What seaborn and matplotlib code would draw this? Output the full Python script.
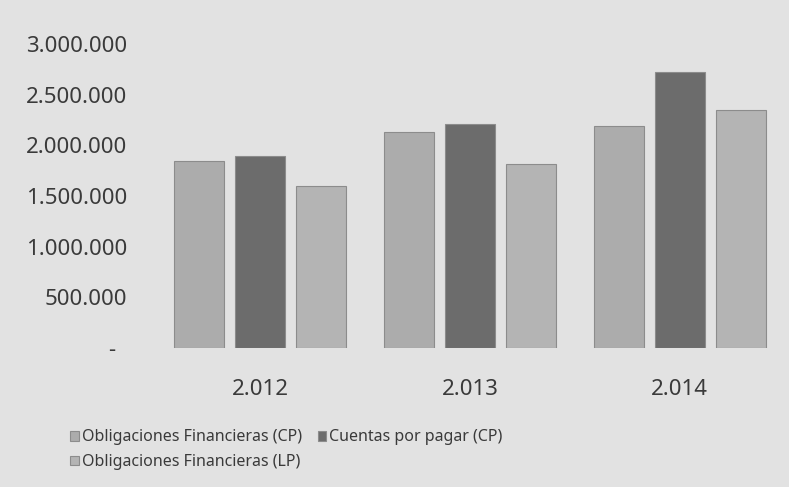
import matplotlib
matplotlib.use("Agg")
import matplotlib.pyplot as plt
import matplotlib.ticker as mticker
import pandas as pd
import seaborn as sns

years = ["2.012", "2.013", "2.014"]
series = [
    "Obligaciones Financieras (CP)",
    "Cuentas por pagar (CP)",
    "Obligaciones Financieras (LP)",
]
oblig_cp = [1850000, 2130000, 2190000]
cuentas_cp = [1890000, 2210000, 2720000]
oblig_lp = [1600000, 1820000, 2350000]

df = pd.DataFrame({
    "year": years * 3,
    "serie": [s for s in series for _ in years],
    "valor": oblig_cp + cuentas_cp + oblig_lp,
})

sns.set_theme(style="white")
plt.rcParams["font.family"] = ["Noto Sans", "DejaVu Sans"]

bg = "#e2e2e2"
txt = "#3a3a3a"
colors = ["#acacac", "#6c6c6c", "#b4b4b4"]

fig = plt.figure(figsize=(7.89, 4.87), dpi=100, facecolor=bg)
ax = fig.add_axes([140 / 789, 1 - 348 / 487, 649 / 789, 304 / 487])
ax.set_facecolor(bg)

sns.barplot(
    data=df, x="year", y="valor", hue="serie", hue_order=series,
    palette=colors, width=0.87, gap=0.18, edgecolor="#8c8c8c",
    linewidth=0.8, ax=ax,
)

ax.set_xlim(-0.571, 2.52)
ax.set_ylim(0, 3000000)
ax.set_yticks([0, 500000, 1000000, 1500000, 2000000, 2500000, 3000000])


def fmt(v, pos):
    if v == 0:
        return "-  "
    return f"{int(v):,}".replace(",", ".")


ax.yaxis.set_major_formatter(mticker.FuncFormatter(fmt))
ax.tick_params(axis="y", labelsize=16, colors=txt, length=0, pad=9)
ax.tick_params(axis="x", labelsize=16, colors=txt, length=0, pad=22)
ax.set_xlabel("")
ax.set_ylabel("")
for s in ax.spines.values():
    s.set_visible(False)

# legend: reorder so it reads row by row like the Excel one
handles, labels = ax.get_legend_handles_labels()
order = [0, 2, 1]
ax.legend(
    [handles[i] for i in order], [labels[i] for i in order],
    ncol=2, loc="upper left", bbox_to_anchor=(56 / 789, 1 - 415 / 487),
    bbox_transform=fig.transFigure, frameon=False, fontsize=11.5,
    handlelength=0.55, handleheight=0.55, handletextpad=0.15,
    columnspacing=1.0, labelspacing=0.55, labelcolor=txt,
)

fig.savefig("out.png", dpi=100, facecolor=bg)
